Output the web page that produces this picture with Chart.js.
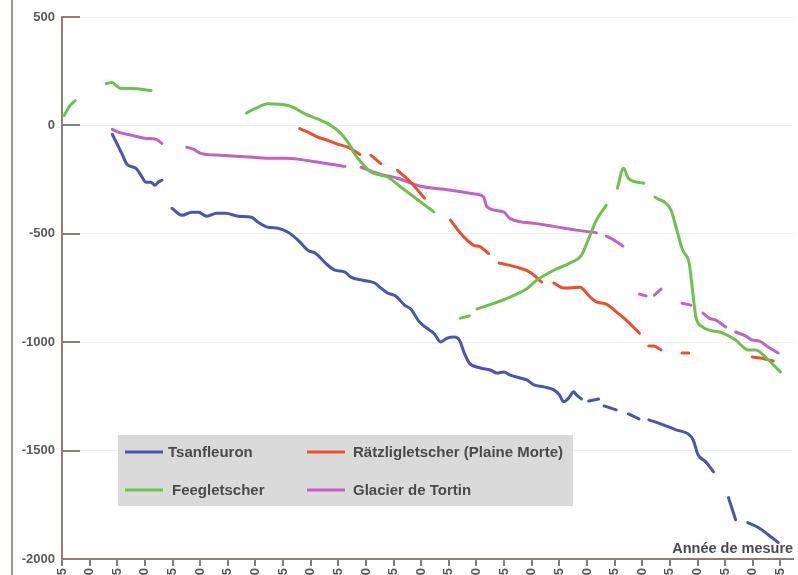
<!DOCTYPE html>
<html lang="fr">
<head>
<meta charset="utf-8">
<title>Variations de longueur cumulées</title>
<script src="https://cdn.jsdelivr.net/npm/chart.js@4/dist/chart.umd.min.js"></script>
<style>
  html, body { margin: 0; padding: 0; background: #ffffff; overflow: hidden; }
  canvas { display: block; }
</style>
</head>
<body>
<canvas id="chart" width="798" height="575"></canvas>
<script>
// Cumulative length change (m) per measurement year; null marks a break in the record.
const tsanfleuronYears = [1894.1, 1895.0, 1895.9, 1896.8, 1898.4, 1899.5, 1900.2, 1901.1, 1901.8, 1902.4, 1903.1, 1904.0,
  1904.9, 1906.7, 1908.5, 1909.7, 1911.2, 1913.0, 1914.6, 1916.9, 1919.3, 1920.5, 1922.3, 1924.1, 1925.9, 1927.7,
  1929.5, 1930.8, 1933.1, 1934.4, 1936.2, 1937.3, 1939.4, 1941.6, 1942.7, 1943.9, 1945.4, 1947.0, 1948.1, 1949.7,
  1951.5, 1952.4, 1953.5, 1954.7, 1956.0, 1956.9, 1957.8, 1958.7, 1960.7, 1962.5, 1963.7, 1965.0, 1966.0, 1967.9,
  1969.1, 1970.4, 1972.2, 1974.0, 1975.0, 1975.8, 1976.7, 1977.6, 1978.1, 1979.0, 1979.6,
  1980.3, 1982.1, 1982.6, 1983.1, 1985.3, 1986.4, 1987.5, 1989.4, 1990.3,
  1991.2, 1993.8, 1996.1, 1998.3, 1999.2, 2000.1, 2001.5, 2002.9, 2004.0,
  2005.6, 2006.9, 2008.0, 2009.1, 2011.0, 2012.8, 2014.6];
const tsanfleuronValues = [-41, -87, -134, -180, -198, -239, -262, -262, -276, -262, -253, null,
  -382, -414, -401, -401, -419, -405, -405, -419, -424, -447, -470, -474, -493, -529,
  -576, -589, -645, -668, -677, -700, -714, -727, -750, -773, -787, -829, -847, -907,
  -944, -962, -999, -981, -976, -990, -1050, -1096, -1119, -1128, -1142, -1137, -1151, -1165,
  -1174, -1197, -1206, -1220, -1243, -1275, -1257, -1229, -1243, -1262, null,
  -1271, -1262, null, -1294, -1312, null, -1331, -1354, null,
  -1358, -1381, -1404, -1423, -1450, -1519, -1552, -1598, null,
  -1717, -1819, null, -1832, -1855, -1888, -1924];

const feeYears = [1885.4, 1886.3, 1887.4, 1890.0,
  1893.0, 1894.1, 1894.8, 1895.7, 1897.7, 1901.1, 1910.0,
  1918.4, 1919.9, 1922.3, 1925.9, 1927.1, 1928.9, 1933.1, 1935.5, 1937.3, 1937.9, 1939.1, 1940.9, 1942.7,
  1943.9, 1946.3, 1948.7, 1951.1, 1952.3, 1955.0,
  1957.1, 1958.7, 1959.4,
  1960.1, 1963.1, 1966.1, 1969.1, 1970.9, 1974.0, 1976.9, 1979.0, 1980.4, 1981.7, 1983.5, 1984.5,
  1985.5, 1986.6, 1987.5, 1990.3, 1991.3,
  1992.3, 1995.2, 1996.1, 1997.3, 1998.5, 1999.1, 1999.7, 2000.9, 2004.6, 2006.9, 2009.2, 2010.5, 2012.8, 2015.0];
const feeValues = [46, 87, 115, null,
  193, 198, 184, 170, 170, 161, null,
  57, 77, 100, 92, 80, 54, 8, -38, -100, -130, -169, -215, -230,
  -238, -284, -330, -376, -399, null,
  -889, -879, null,
  -847, -821, -792, -753, -714, -668, -635, -599, -516, -437, -368, null,
  -290, -198, -244, -267, null,
  -331, -391, -468, -575, -637, -760, -883, -929, -958, -990, -1036, -1036, -1082, -1137];

const raetzliYears = [1928.0, 1929.5, 1931.3, 1933.1, 1934.9, 1936.7, 1938.9, 1939.8,
  1940.9, 1942.7, 1944.0,
  1945.7, 1948.1, 1950.6, 1953.0,
  1955.3, 1957.1, 1958.3, 1959.5, 1960.7, 1962.2, 1963.0,
  1964.1, 1967.3, 1969.7, 1971.8, 1973.0,
  1974.0, 1975.8, 1978.7, 1980.5, 1981.7, 1983.5, 1985.3, 1987.1, 1989.5, 1990.3,
  1991.2, 1992.1, 1993.4, 1995.0,
  1997.2, 1998.4, 2004.0,
  2009.9, 2011.9, 2013.7];
const raetzliValues = [-15, -31, -54, -69, -87, -100, -134, null,
  -138, -176, null,
  -207, -262, -336, null,
  -437, -497, -529, -553, -560, -591, null,
  -635, -654, -677, -723, null,
  -727, -750, -747, -790, -814, -824, -860, -898, -959, null,
  -1017, -1017, -1036, null,
  -1050, -1050, null,
  -1068, -1075, -1087];

const tortinYears = [1894.1, 1895.3, 1897.7, 1900.2, 1902.0, 1903.1, 1905.0,
  1907.6, 1908.8, 1910.1, 1913.7, 1919.6, 1922.7, 1925.6, 1930.4, 1936.2, 1937.5,
  1939.1, 1942.1, 1945.7, 1949.9, 1954.2, 1957.8, 1960.1, 1961.3, 1961.9, 1964.9, 1966.1, 1970.9, 1974.5,
  1978.1, 1981.7, 1982.5,
  1983.5, 1984.7, 1986.5, 1988.0,
  1989.5, 1990.7, 1991.4,
  1992.2, 1993.4, 1995.0,
  1997.2, 1998.8, 2000.0,
  2001.0, 2002.1, 2003.3, 2005.1, 2006.0,
  2006.9, 2008.7, 2009.9, 2011.1, 2012.8, 2014.6];
const tortinValues = [-18, -32, -46, -60, -64, -83, null,
  -101, -110, -129, -138, -147, -152, -152, -166, -189, null,
  -193, -221, -244, -281, -295, -308, -318, -330, -376, -399, -430, -453, -468,
  -483, -495, null,
  -511, -526, -557, null,
  -778, -787, null,
  -783, -755, null,
  -820, -829, null,
  -866, -889, -898, -930, null,
  -953, -971, -990, -994, -1022, -1050];

const seriesNames = ['Tsanfleuron', 'Rätzligletscher (Plaine Morte)', 'Feegletscher', 'Glacier de Tortin'];
const yearTicks = [1885, 1890, 1895, 1900, 1905, 1910, 1915, 1920, 1925, 1930, 1935, 1940, 1945, 1950,
  1955, 1960, 1965, 1970, 1975, 1980, 1985, 1990, 1995, 2000, 2005, 2010, 2015];
const lengthTicks = [500, 0, -500, -1000, -1500, -2000];
const axisTitle = 'Année de mesure';

const COLORS = {
  blue: '#4a54b2',
  red: '#f04e2a',
  green: '#6ec24c',
  purple: '#c162c4'
};
const AXIS = '#8b7d78';
const FONT = '"Liberation Sans", Arial, sans-serif';

function points(xs, ys) {
  return xs.map((x, i) => ({ x: x, y: ys[i] }));
}

function line(label, xs, ys, color) {
  return {
    label: label,
    data: points(xs, ys),
    borderColor: color,
    backgroundColor: color,
    borderWidth: 3,
    pointRadius: 0,
    spanGaps: false,
    cubicInterpolationMode: 'monotone',
    borderCapStyle: 'round',
    borderJoinStyle: 'round'
  };
}

// Frame line, inner y ticks, axis caption and boxed legend.
const decorations = {
  id: 'decorations',
  beforeDraw(chart) {
    const ctx = chart.ctx;
    ctx.save();
    ctx.strokeStyle = '#a39893';
    ctx.lineWidth = 2;
    ctx.beginPath();
    ctx.moveTo(12, 0);
    ctx.lineTo(12, chart.height);
    ctx.stroke();
    ctx.restore();
  },
  afterDraw(chart) {
    const ctx = chart.ctx;
    const area = chart.chartArea;
    const y = chart.scales.y;
    ctx.save();
    ctx.strokeStyle = AXIS;
    ctx.lineWidth = 2;
    lengthTicks.forEach(v => {
      const py = Math.round(y.getPixelForValue(v));
      ctx.beginPath();
      ctx.moveTo(area.left, py);
      ctx.lineTo(area.left + 18, py);
      ctx.stroke();
    });

    ctx.fillStyle = '#4a4a4a';
    ctx.font = 'bold 14.5px ' + FONT;
    ctx.textAlign = 'right';
    ctx.textBaseline = 'alphabetic';
    ctx.fillText(axisTitle, area.right, area.bottom - 6);

    // legend box
    const bx = area.left + 56, by = area.top + 418, bw = 455, bh = 71;
    ctx.fillStyle = '#dadada';
    ctx.fillRect(bx, by, bw, bh);
    const entries = [
      { name: seriesNames[0], color: COLORS.blue, x: bx + 7, y: by + 17, tx: bx + 50 },
      { name: seriesNames[1], color: COLORS.red, x: bx + 189, y: by + 17, tx: bx + 235 },
      { name: seriesNames[2], color: COLORS.green, x: bx + 7, y: by + 55, tx: bx + 54 },
      { name: seriesNames[3], color: COLORS.purple, x: bx + 189, y: by + 55, tx: bx + 235 }
    ];
    ctx.font = 'bold 15px ' + FONT;
    ctx.textAlign = 'left';
    ctx.textBaseline = 'middle';
    entries.forEach(e => {
      ctx.strokeStyle = e.color;
      ctx.lineWidth = 3;
      ctx.beginPath();
      ctx.moveTo(e.x, e.y);
      ctx.lineTo(e.x + 38, e.y);
      ctx.stroke();
      ctx.fillStyle = '#4a4a4a';
      ctx.fillText(e.name, e.tx, e.y + 1);
    });
    ctx.restore();
  }
};

new Chart(document.getElementById('chart'), {
  type: 'line',
  data: {
    datasets: [
      line(seriesNames[0], tsanfleuronYears, tsanfleuronValues, COLORS.blue),
      line(seriesNames[2], feeYears, feeValues, COLORS.green),
      line(seriesNames[1], raetzliYears, raetzliValues, COLORS.red),
      line(seriesNames[3], tortinYears, tortinValues, COLORS.purple)
    ]
  },
  options: {
    responsive: false,
    animation: false,
    devicePixelRatio: 1,
    layout: { padding: { top: 17, right: 0, bottom: 0, left: 0 } },
    plugins: {
      legend: { display: false },
      tooltip: { enabled: false }
    },
    scales: {
      x: {
        type: 'linear',
        min: 1885,
        max: 2017.3,
        afterBuildTicks: s => { s.ticks = yearTicks.map(v => ({ value: v })); },
        afterFit: s => { s.height = 16; },
        ticks: {
          autoSkip: false,
          minRotation: 90,
          maxRotation: 90,
          padding: 2,
          color: '#5a5a5a',
          font: { family: FONT, size: 13, weight: 'bold' },
          callback: v => String(v)
        },
        grid: { drawOnChartArea: false, drawTicks: true, tickLength: 7, color: AXIS, lineWidth: 2 },
        border: { display: true, color: AXIS, width: 2 }
      },
      y: {
        type: 'linear',
        min: -2000,
        max: 500,
        afterBuildTicks: s => { s.ticks = lengthTicks.map(v => ({ value: v })); },
        afterFit: s => { s.width = 62; },
        ticks: {
          padding: 7,
          color: '#5a5a5a',
          font: { family: FONT, size: 13, weight: 'bold' },
          callback: v => String(v)
        },
        grid: { drawTicks: false, color: '#efefef', lineWidth: 1 },
        border: { display: true, color: AXIS, width: 2 }
      }
    }
  },
  plugins: [decorations]
});
</script>
</body>
</html>
